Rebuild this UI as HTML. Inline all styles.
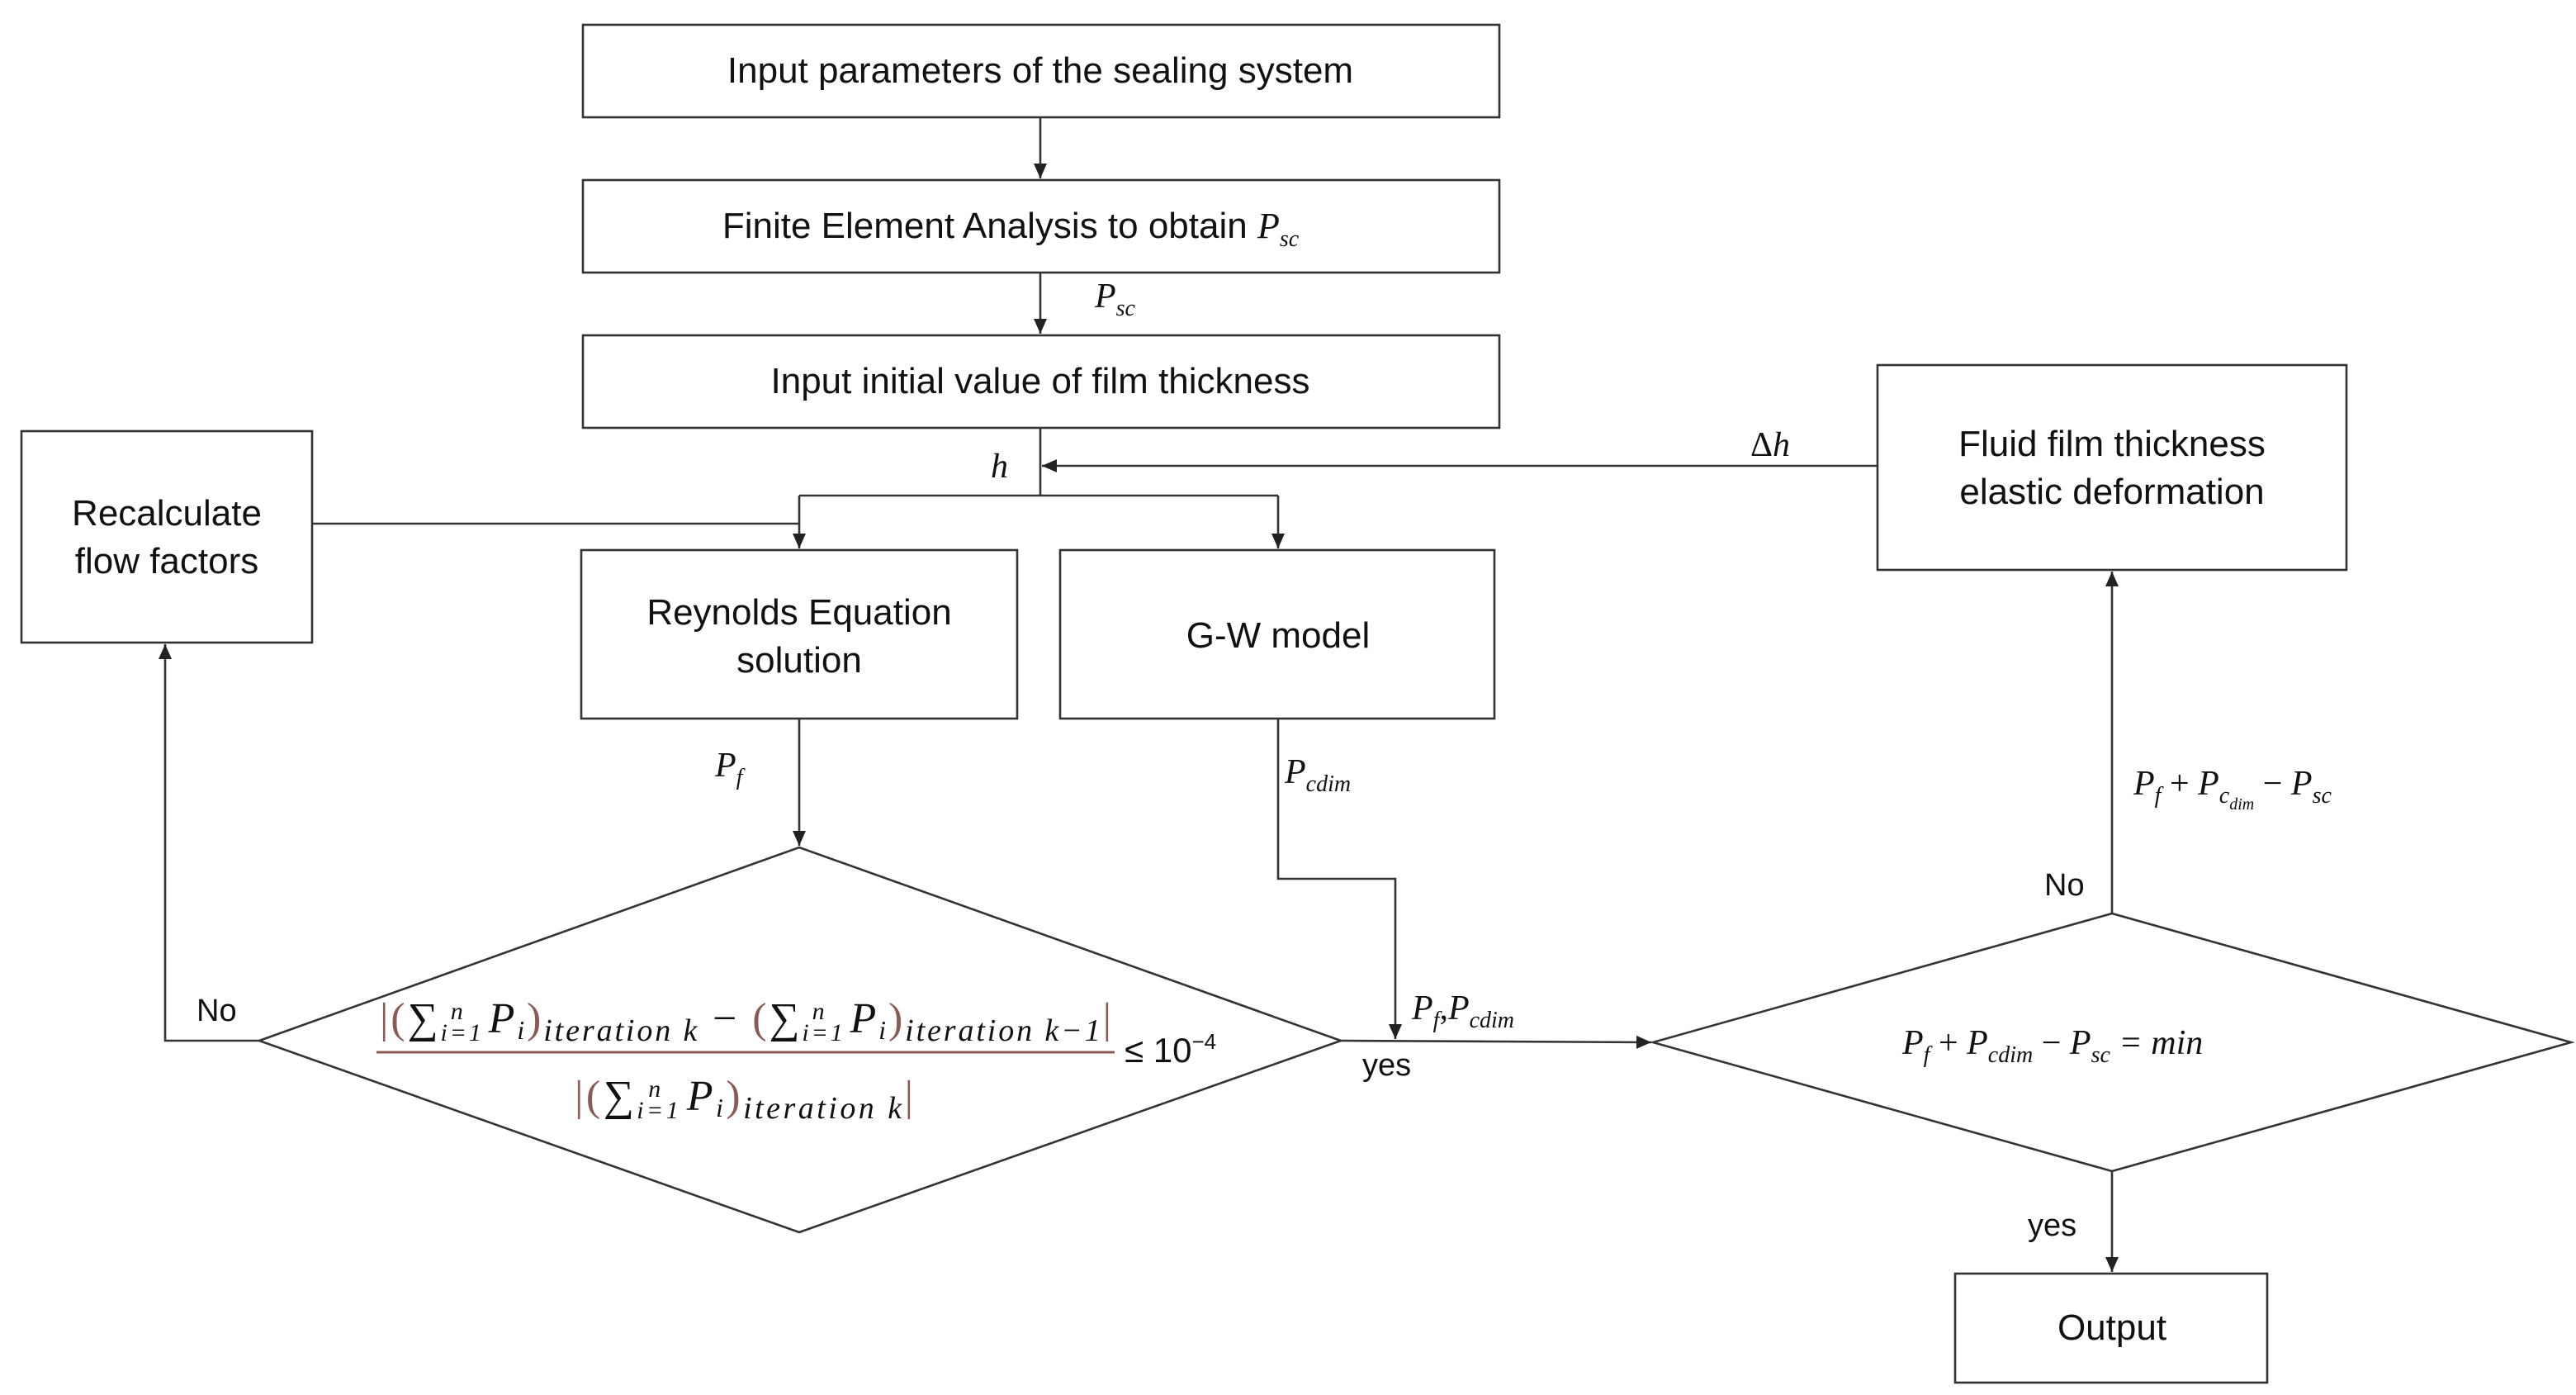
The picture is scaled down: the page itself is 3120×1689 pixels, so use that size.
<!DOCTYPE html>
<html><head><meta charset="utf-8"><style>html,body{margin:0;padding:0;background:#fff}svg{display:block}</style></head><body>
<svg width="3120" height="1689" viewBox="0 0 1560 844.5" xmlns="http://www.w3.org/2000/svg">
<defs><marker id="a" markerWidth="10" markerHeight="10" refX="9" refY="5" orient="auto" markerUnits="userSpaceOnUse"><path d="M0,1 L9,5 L0,9 z" fill="#222"/></marker></defs>
<rect width="1560" height="845" fill="#fff"/>
<g fill="none" stroke="#333" stroke-width="1.3">
<rect x="353" y="15" width="555" height="56"/>
<rect x="353" y="109" width="555" height="56"/>
<rect x="353" y="203" width="555" height="56"/>
<rect x="13" y="261" width="176" height="128"/>
<rect x="352" y="333" width="264" height="102"/>
<rect x="642" y="333" width="263" height="102"/>
<rect x="1137" y="221" width="284" height="124"/>
<rect x="1184" y="771" width="189" height="66"/>
<polygon points="157,630 484,513 812,630 484,746"/>
<polygon points="1001,631 1279,553 1557,631 1279,709"/>
</g>
<g fill="none" stroke="#333" stroke-width="1.3">
<line x1="630" y1="71" x2="630" y2="108" marker-end="url(#a)"/>
<line x1="630" y1="165" x2="630" y2="202" marker-end="url(#a)"/>
<polyline points="630,259 630,300"/>
<polyline points="484,300 774,300"/>
<line x1="774" y1="300" x2="774" y2="332" marker-end="url(#a)"/>
<line x1="484" y1="300" x2="484" y2="332" marker-end="url(#a)"/>
<line x1="189" y1="317" x2="484" y2="317"/>
<line x1="1137" y1="282" x2="631" y2="282" marker-end="url(#a)"/>
<line x1="484" y1="435" x2="484" y2="512" marker-end="url(#a)"/>
<polyline points="774,435 774,532 845,532 845,629" marker-end="url(#a)"/>
<line x1="812" y1="630" x2="1000" y2="631" marker-end="url(#a)"/>
<line x1="1279" y1="553" x2="1279" y2="346" marker-end="url(#a)"/>
<line x1="1279" y1="709" x2="1279" y2="770" marker-end="url(#a)"/>
<polyline points="157,630 100,630 100,390" marker-end="url(#a)"/>
</g>
<g font-family="Liberation Sans, sans-serif" font-size="22" fill="#111" text-anchor="middle">
<text x="630" y="50">Input parameters of the sealing system</text>
<text x="612" y="144">Finite Element Analysis  to obtain <tspan font-family="Liberation Serif, serif" font-style="italic">P</tspan><tspan font-family="Liberation Serif, serif" font-style="italic" font-size="14" dy="5">sc</tspan></text>
<text x="630" y="238">Input initial value  of film thickness</text>
<text x="101" y="318">Recalculate</text>
<text x="101" y="347">flow factors</text>
<text x="484" y="378">Reynolds Equation</text>
<text x="484" y="407">solution</text>
<text x="774" y="392">G-W model</text>
<text x="1279" y="276">Fluid film thickness</text>
<text x="1279" y="305">elastic deformation</text>
<text x="1279" y="811">Output</text>
</g>
<g font-family="Liberation Sans, sans-serif" font-size="19" fill="#111">
<text x="119" y="618">No</text>
<text x="825" y="651">yes</text>
<text x="1238" y="542">No</text>
<text x="1228" y="748">yes</text>
</g>
<g font-family="Liberation Serif, serif" font-style="italic" font-size="21" fill="#111">
<text x="663" y="186">P<tspan font-size="14" dy="5">sc</tspan></text>
<text x="600" y="289">h</text>
<text x="1060" y="276"><tspan font-style="normal">Δ</tspan>h</text>
<text x="433" y="470">P<tspan font-size="14" dy="5">f</tspan></text>
<text x="778" y="474">P<tspan font-size="14" dy="5">cdim</tspan></text>
<text x="855" y="617">P<tspan font-size="14" dy="5">f</tspan><tspan dy="-5" font-style="normal">,</tspan>P<tspan font-size="14" dy="5">cdim</tspan></text>
<text x="1292" y="481">P<tspan font-size="14" dy="5">f</tspan><tspan dy="-5" font-style="normal"> + </tspan>P<tspan font-size="14" dy="5">c</tspan><tspan font-size="10" dy="4">dim</tspan><tspan dy="-9" font-style="normal"> − </tspan>P<tspan font-size="14" dy="5">sc</tspan></text>
<text x="1152" y="638">P<tspan font-size="14" dy="5">f</tspan><tspan dy="-5" font-style="normal"> + </tspan>P<tspan font-size="14" dy="5">cdim</tspan><tspan dy="-5" font-style="normal"> − </tspan>P<tspan font-size="14" dy="5">sc</tspan><tspan dy="-5">  = min</tspan></text>
</g>
<g font-family="Liberation Serif, serif" font-style="italic" font-size="26" fill="#111">
<text x="230" y="625" textLength="443" lengthAdjust="spacing"><tspan fill="#8a5a55" font-style="normal">|(</tspan><tspan font-style="normal">∑</tspan><tspan font-size="15" dy="5">i=1</tspan><tspan font-size="15" dy="-13" dx="-20">n</tspan><tspan dy="8" dx="14">P</tspan><tspan font-size="16" dy="4">i</tspan><tspan fill="#8a5a55" font-style="normal" dy="-4">)</tspan><tspan font-size="19" dy="5">iteration k</tspan><tspan font-style="normal" dy="-5"> − </tspan><tspan fill="#8a5a55" font-style="normal">(</tspan><tspan font-style="normal">∑</tspan><tspan font-size="15" dy="5">i=1</tspan><tspan font-size="15" dy="-13" dx="-20">n</tspan><tspan dy="8" dx="14">P</tspan><tspan font-size="16" dy="4">i</tspan><tspan fill="#8a5a55" font-style="normal" dy="-4">)</tspan><tspan font-size="19" dy="5">iteration k−1</tspan><tspan fill="#8a5a55" font-style="normal" dy="-5">|</tspan></text>
<line x1="228" y1="637" x2="675" y2="637" stroke="#8a5a55" stroke-width="1.5"/>
<text x="348" y="672" textLength="205" lengthAdjust="spacing"><tspan fill="#8a5a55" font-style="normal">|(</tspan><tspan font-style="normal">∑</tspan><tspan font-size="15" dy="5">i=1</tspan><tspan font-size="15" dy="-13" dx="-20">n</tspan><tspan dy="8" dx="14">P</tspan><tspan font-size="16" dy="4">i</tspan><tspan fill="#8a5a55" font-style="normal" dy="-4">)</tspan><tspan font-size="19" dy="5">iteration k</tspan><tspan fill="#8a5a55" font-style="normal" dy="-5">|</tspan></text>
<text x="681" y="643" font-size="21" font-style="normal" font-family="Liberation Sans, sans-serif">≤ 10<tspan font-size="13" dy="-8">−4</tspan></text>
</g>
</svg>
</body></html>
